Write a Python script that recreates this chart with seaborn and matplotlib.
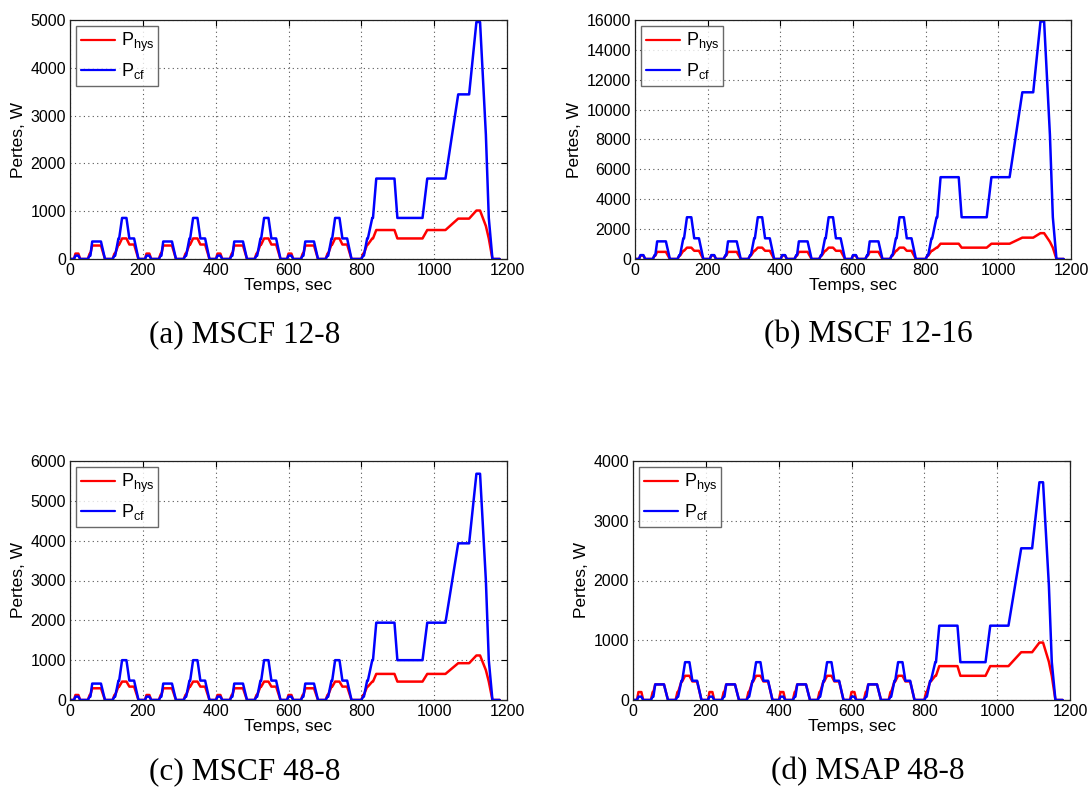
import numpy as np
import pandas as pd
import matplotlib
matplotlib.use("Agg")
import matplotlib.pyplot as plt
import seaborn as sns

# Cycle NEDC : 4 cycles urbains (ECE-15) + 1 cycle extra-urbain (EUDC)
ece_time = [0, 11, 15, 23, 28, 49, 54, 56, 61, 85, 96, 117, 122, 124, 133, 135, 143, 155, 163, 176, 188, 195]
ece_speed = [0, 0, 15, 15, 0, 0, 15, 15, 32, 32, 0, 0, 15, 15, 35, 35, 50, 50, 35, 35, 0, 0]
eudc_time = [780, 800, 805, 807, 816, 818, 830, 832, 841, 891, 899, 968, 981, 1031, 1066, 1096, 1116, 1126, 1142, 1150, 1160, 1180]
eudc_speed = [0, 0, 15, 15, 35, 35, 50, 50, 70, 70, 50, 50, 70, 70, 100, 100, 120, 120, 80, 50, 0, 0]
ece_offsets = [0, 195, 390, 585]

speed_levels = [0, 15, 32, 35, 50, 70, 80, 100, 120]

hys_12_8 = [0, 113, 282, 303, 430, 606, 690, 845, 1014]
cf_12_8 = [0, 70, 366, 430, 859, 1683, 2600, 3444, 4958]

hys_12_16 = [0, 230, 477, 550, 760, 1023, 1150, 1430, 1730]
cf_12_16 = [0, 260, 1180, 1386, 2795, 5477, 8300, 11160, 15900]

hys_48_8 = [0, 126, 294, 336, 462, 655, 750, 924, 1118]
cf_48_8 = [0, 84, 412, 487, 1000, 1941, 3000, 3933, 5680]

hys_msap = [0, 133, 261, 311, 405, 567, 640, 800, 961]
cf_msap = [0, 56, 261, 322, 633, 1244, 1920, 2539, 3644]

captions = ["(a) MSCF 12-8", "(b) MSCF 12-16", "(c) MSCF 48-8", "(d) MSAP 48-8"]
ylims = [5000, 16000, 6000, 4000]
ysteps = [1000, 2000, 1000, 1000]
machines = [(hys_12_8, cf_12_8), (hys_12_16, cf_12_16), (hys_48_8, cf_48_8), (hys_msap, cf_msap)]

t_all = []
v_all = []
for off in ece_offsets:
    t_all += [t + off for t in ece_time]
    v_all += ece_speed
t_all += eudc_time
v_all += eudc_speed

sns.set_style("white")
plt.rcParams["font.family"] = ["Liberation Sans", "DejaVu Sans"]
plt.rcParams["mathtext.fontset"] = "custom"
plt.rcParams["mathtext.rm"] = "Liberation Sans"
plt.rcParams["text.color"] = "black"
plt.rcParams["axes.labelcolor"] = "black"

fig = plt.figure(figsize=(10.88, 7.9), dpi=100)

# positions des axes (en fraction de la figure)
positions = [
    [70 / 1088, 1 - 259 / 790, 437 / 1088, 239 / 790],
    [635 / 1088, 1 - 259 / 790, 436 / 1088, 239 / 790],
    [70 / 1088, 1 - 700 / 790, 437 / 1088, 239 / 790],
    [633 / 1088, 1 - 700 / 790, 437 / 1088, 239 / 790],
]
caption_pos = [(245, 335), (868, 335), (245, 772), (868, 772)]

for i, (hys, cf) in enumerate(machines):
    ax = fig.add_axes(positions[i])
    hys_map = dict(zip(speed_levels, hys))
    cf_map = dict(zip(speed_levels, cf))
    df = pd.DataFrame({
        "t": t_all + t_all,
        "P": [hys_map[v] for v in v_all] + [cf_map[v] for v in v_all],
        "serie": [r"$\mathregular{P_{hys}}$"] * len(t_all) + [r"$\mathregular{P_{cf}}$"] * len(t_all),
    })
    sns.lineplot(data=df, x="t", y="P", hue="serie", sort=False,
                 palette=["#ff0000", "#0000ff"], linewidth=1.8, ax=ax)

    ax.set_xlim(0, 1200)
    ax.set_ylim(0, ylims[i])
    ax.set_xticks(np.arange(0, 1201, 200))
    ax.set_yticks(np.arange(0, ylims[i] + 1, ysteps[i]))
    ax.grid(True, linestyle=(0, (1, 3)), color="#555555", linewidth=0.8)
    ax.tick_params(axis="both", labelsize=11.5, direction="in", length=4,
                   top=True, right=True, pad=3, colors="black")
    for s in ax.spines.values():
        s.set_color("#222222")
        s.set_linewidth(0.9)
    ax.set_xlabel("Temps, sec", fontsize=12.5, labelpad=0, color="black")
    ax.set_ylabel("Pertes, W", fontsize=12.5, labelpad=3, color="black")

    leg = ax.legend(loc="upper left", fontsize=13, frameon=True, fancybox=False,
                    borderaxespad=0.35, handlelength=1.9, handletextpad=0.3,
                    borderpad=0.25, labelspacing=0.4)
    leg.get_frame().set_edgecolor("#444444")
    leg.get_frame().set_linewidth(1.0)
    leg.set_title(None)
    for line in leg.get_lines():
        line.set_linewidth(1.6)
    for txt in leg.get_texts():
        txt.set_color("black")

    cx, cy = caption_pos[i]
    fig.text(cx / 1088, 1 - cy / 790, captions[i], ha="center", va="center",
             fontsize=22.5, color="black", family=["Liberation Serif", "DejaVu Serif"])

fig.savefig("out.png", dpi=100)
